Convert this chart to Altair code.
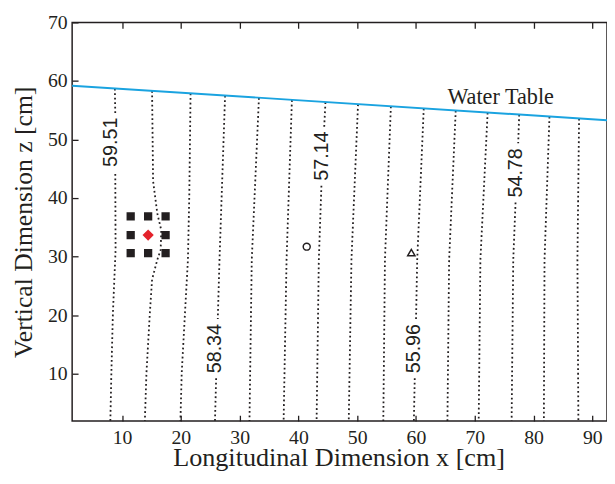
import altair as alt
import pandas as pd

# ---------------- data ----------------
X_TICKS = [10, 20, 30, 40, 50, 60, 70, 80, 90]
Y_TICKS = [10, 20, 30, 40, 50, 60, 70]

# water table (straight line across the visible area)
wt_x = [1.5, 92.5]
wt_z = [59.2, 53.3]

# equipotential lines: (line id, segment id, x values, z values)
contour_segments = [
    (1, "1a", [8.77, 8.84], [58.69, 54.24]),
    (1, "1b", [8.84, 8.89, 8.43, 8.17, 8.00], [44.12, 31.14, 20.18, 9.95, 1.9]),
    (2, "2", [15.10, 15.27, 15.99, 16.66, 16.56, 15.99, 15.10, 14.71, 14.14, 13.87],
             [58.28, 42.94, 37.38, 34.51, 31.14, 29.46, 26.09, 20.18, 10.07, 1.9]),
    (3, "3", [21.65, 21.43, 21.20, 20.69, 20.14, 19.92], [57.85, 40.41, 29.46, 20.18, 10.07, 1.9]),
    (4, "4a", [27.52, 26.57, 26.28], [57.47, 29.46, 19.34]),
    (4, "4b", [26.00, 25.80], [9.23, 1.9]),
    (5, "5", [33.28, 32.06, 31.67], [57.10, 29.46, 1.9]),
    (6, "6", [38.89, 37.98, 37.48], [56.73, 29.46, 1.9]),
    (7, "7a", [44.60, 44.38], [56.36, 52.05]),
    (7, "7b", [43.91, 43.47, 43.09], [42.10, 29.46, 1.9]),
    (8, "8", [50.14, 49.02, 48.56], [56.00, 29.46, 1.9]),
    (9, "9", [55.73, 54.72, 54.44], [55.64, 29.46, 1.9]),
    (10, "10a", [61.32, 60.21, 60.01], [55.28, 29.46, 19.34]),
    (10, "10b", [59.79, 59.64], [9.23, 1.9]),
    (11, "11", [66.76, 65.64, 65.35], [54.92, 29.46, 1.9]),
    (12, "12", [72.19, 70.96, 70.67], [54.57, 29.46, 1.9]),
    (13, "13a", [77.56, 77.39], [54.22, 49.35]),
    (13, "13b", [76.94, 76.55, 76.27], [39.23, 29.46, 1.9]),
    (14, "14", [82.71, 81.87, 81.76], [53.89, 29.46, 1.9]),
    (15, "15", [87.75, 87.47, 87.63], [53.56, 29.46, 1.9]),
]

# contour labels
label_text = ["59.51", "58.34", "57.14", "55.96", "54.78"]
label_x = [8.13, 25.85, 43.95, 59.76, 76.97]
label_z = [49.52, 14.28, 47.16, 14.28, 44.30]

# electrode squares around the injection point
sq_x = [11.46, 14.43, 17.40, 11.46, 17.40, 11.46, 14.43, 17.40]
sq_z = [36.87, 36.87, 36.87, 33.67, 33.67, 30.59, 30.59, 30.59]

# injection point (red diamond), observation points
inj_x, inj_z = [14.43], [33.67]
circ_x, circ_z = [41.41], [31.70]
tri_x, tri_z = [59.21], [30.69]

wt_label = "Water Table"
wt_label_x, wt_label_z = [65.35], [56.14]

# ---------------- tables ----------------
rows = []
for lid, seg, xs_, zs_ in contour_segments:
    for i, (xv, zv) in enumerate(zip(xs_, zs_)):
        rows.append({"line": lid, "seg": seg, "i": i, "x": xv, "z": zv})
df_c = pd.DataFrame(rows)
df_wt = pd.DataFrame({"x": wt_x, "z": wt_z})
df_lab = pd.DataFrame({"t": label_text, "x": label_x, "z": label_z})
df_sq = pd.DataFrame({"x": sq_x, "z": sq_z})
df_inj = pd.DataFrame({"x": inj_x, "z": inj_z})
df_circ = pd.DataFrame({"x": circ_x, "z": circ_z})
df_tri = pd.DataFrame({"x": tri_x, "z": tri_z})
df_wtl = pd.DataFrame({"t": [wt_label], "x": wt_label_x, "z": wt_label_z})

INK = "#231f20"
SERIF = "Liberation Serif"
SANS = "Liberation Sans"
W, H = 542, 404

xs = alt.Scale(domain=[1.5, 92.5], nice=False, zero=False)
ys = alt.Scale(domain=[1.9, 70], nice=False, zero=False)

x_axis = alt.Axis(
    orient="bottom", values=X_TICKS, ticks=False, tickSize=0, domain=False,
    labelFont=SERIF, labelFontSize=20, labelColor=INK, labelPadding=7,
    grid=True, gridDash=[6, H - 12, 6, 1000], gridColor=INK, gridWidth=1.3, gridOpacity=1,
    title="Longitudinal Dimension x [cm]", titleFont=SERIF, titleFontSize=26.5,
    titleFontWeight="normal", titleColor=INK, titleX=270, titleY=45,
    titleAlign="center", titleBaseline="alphabetic")
y_axis = alt.Axis(
    orient="left", values=Y_TICKS, ticks=False, tickSize=0, domain=False,
    labelFont=SERIF, labelFontSize=20, labelColor=INK, labelPadding=5,
    grid=True, gridDash=[6, 2000], gridColor=INK, gridWidth=1.3, gridOpacity=1,
    title="Vertical Dimension z [cm]", titleFont=SERIF, titleFontSize=26,
    titleFontWeight="normal", titleColor=INK, titleX=-41, titleY=202,
    titleAngle=270, titleAlign="center", titleBaseline="alphabetic")


def X():
    return alt.X("x:Q", scale=xs, axis=x_axis)


def Y():
    return alt.Y("z:Q", scale=ys, axis=y_axis)


contours = alt.Chart(df_c).mark_line(
    color=INK, strokeWidth=1.8, strokeDash=[1.8, 2.8], strokeCap="butt"
).encode(x=X(), y=Y(), detail="seg:N", order="i:Q")

water = alt.Chart(df_wt).mark_line(color="#1aa3e0", strokeWidth=2).encode(x=X(), y=Y())

labels = alt.Chart(df_lab).mark_text(
    font=SANS, fontSize=20, angle=270, align="center", baseline="middle", color=INK
).encode(x=X(), y=Y(), text="t:N")

squares = alt.Chart(df_sq).mark_point(
    shape="square", filled=True, size=70, color=INK, opacity=1
).encode(x=X(), y=Y())

inj = alt.Chart(df_inj).mark_point(
    shape="diamond", filled=True, size=130, color="#e4222b", opacity=1
).encode(x=X(), y=Y())

circ = alt.Chart(df_circ).mark_point(
    shape="circle", filled=False, size=50, color=INK, strokeWidth=1.5, opacity=1
).encode(x=X(), y=Y())

tri = alt.Chart(df_tri).mark_point(
    shape="triangle-up", filled=False, size=55, color=INK, strokeWidth=1.5, opacity=1
).encode(x=X(), y=Y())

wt_text = alt.Chart(df_wtl).mark_text(
    font=SERIF, fontSize=22.5, align="left", baseline="alphabetic", color=INK
).encode(x=X(), y=Y(), text="t:N")

chart = alt.layer(
    contours, water, labels, squares, inj, circ, tri, wt_text
).properties(
    width=W, height=H,
    autosize=alt.AutoSizeParams(type="none"),
    padding={"left": 65, "top": 11.5, "right": 0, "bottom": 50},
    background="white",
).configure_view(stroke=INK, strokeWidth=1.5).configure_axis(
    labelFont=SERIF, titleFont=SERIF, labelColor=INK, titleColor=INK,
    titleFontWeight="normal"
)

chart.save("out.html", embed_options={"renderer": "svg", "actions": False})
